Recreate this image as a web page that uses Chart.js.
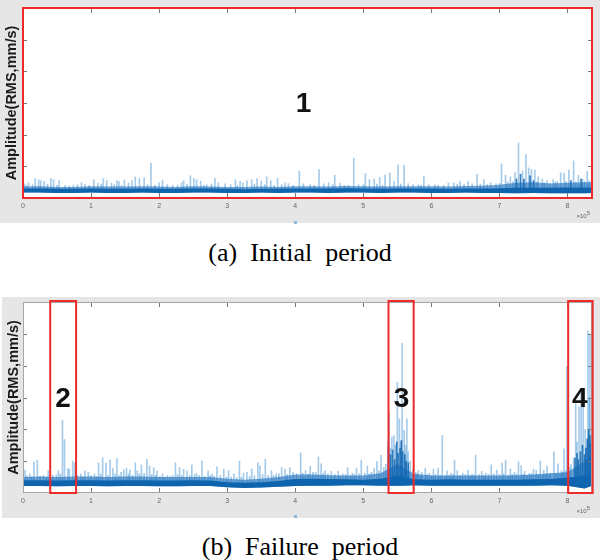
<!DOCTYPE html>
<html><head><meta charset="utf-8">
<script src="https://cdn.jsdelivr.net/npm/chart.js@4.4.1/dist/chart.umd.min.js"></script>
<style>
html,body{margin:0;padding:0;background:#fff;width:600px;height:560px;overflow:hidden;position:relative;}
#pa{position:absolute;left:0;top:0;width:600px;height:223px;background:#e6e6e6;}
#pb{position:absolute;left:2px;top:297px;width:598px;height:221px;background:#e6e6e6;}
.cap{position:absolute;left:0;width:600px;height:30px;line-height:30px;text-align:center;font-family:"Liberation Serif","Times New Roman",serif;font-size:26px;white-space:pre;color:#000;}
.dot{position:absolute;width:3px;height:3px;background:#8fb8de;}
</style></head>
<body>
<div id="pa"><canvas id="ca" width="600" height="223"></canvas></div>
<div class="dot" style="left:294px;top:221px"></div>
<div class="cap" style="top:238px">(a)  Initial  period</div>
<div id="pb"><canvas id="cb" width="598" height="221"></canvas></div>
<div class="dot" style="left:294px;top:515px"></div>
<div class="cap" style="top:532px">(b)  Failure  period</div>
<script>
// ---- axis ticks ----
const xTickVals = [0,1,2,3,4,5,6,7,8];
const yTickVals = [1,2,3,4,5];
const xMin = 0, xMax = 8.36, yMin = 0, yMax = 6;
const yTitle = "Amplitude(RMS,mm/s)";
const xExpLabel = "\u00d710";
const xExpPow = "5";

// ---- baseline band (x in units of 1e5 samples) ----
const bandX = [0,0.25,0.5,0.75,1,1.25,1.5,1.75,2,2.25,2.5,2.75,3,3.25,3.5,3.75,4,4.25,4.5,4.75,5,5.25,5.5,5.75,6,6.25,6.5,6.75,7,7.25,7.5,7.75,8,8.25,8.35];

// panel (a) Initial period
const aBandLo = [.17,.17,.16,.16,.17,.16,.16,.17,.16,.16,.17,.17,.16,.16,.17,.16,.17,.17,.16,.17,.17,.16,.17,.17,.16,.16,.17,.16,.16,.15,.16,.15,.15,.15,.16];
const aBandHi = [.30,.30,.29,.29,.30,.29,.29,.30,.29,.29,.30,.30,.29,.28,.29,.29,.30,.30,.30,.31,.30,.29,.30,.30,.30,.29,.30,.30,.31,.32,.32,.32,.33,.33,.33];
const aBandFuzz = [.36,.37,.35,.35,.37,.36,.36,.37,.36,.35,.37,.36,.35,.35,.36,.35,.37,.37,.36,.38,.37,.36,.37,.37,.37,.36,.38,.39,.42,.48,.50,.46,.48,.50,.50];
const aSpikeX = [0.02,0.08,0.18,0.23,0.26,0.31,0.41,0.45,0.53,0.62,0.74,0.86,0.91,1.04,1.10,1.18,1.23,1.30,1.38,1.41,1.49,1.55,1.60,1.65,1.71,1.78,1.88,2.00,2.05,2.20,2.33,2.36,2.46,2.51,2.55,2.61,2.70,2.82,2.87,2.97,3.12,3.19,3.23,3.29,3.36,3.44,3.50,3.58,3.64,3.74,3.85,3.90,4.06,4.12,4.22,4.35,4.42,4.49,4.58,4.66,4.78,4.86,4.93,5.03,5.09,5.16,5.24,5.32,5.39,5.45,5.51,5.60,5.66,5.73,5.81,5.89,5.96,6.10,6.25,6.33,6.42,6.54,6.60,6.67,6.77,6.87,6.95,7.03,7.09,7.16,7.23,7.28,7.34,7.39,7.43,7.47,7.52,7.57,7.63,7.70,7.79,7.85,7.90,7.95,8.02,8.09,8.16,8.22,8.29];
const aSpikeY = [.45,.48,.61,.58,.55,.53,.62,.58,.55,.40,.41,.48,.43,.58,.47,.61,.55,.47,.55,.53,.57,.48,.55,.67,.62,.64,1.10,.48,.57,.40,.48,.55,.70,.62,.58,.53,.42,.62,.48,.45,.58,.53,.48,.55,.58,.61,.53,.67,.55,.62,.48,.45,.85,.45,.42,.90,.45,.48,.72,.46,.40,1.26,.42,.77,.58,.60,.65,.72,.79,.52,1.05,1.03,.45,.42,.42,.69,.42,.40,.48,.48,.52,.52,.45,.75,.58,.48,.45,1.08,.72,.67,.80,1.74,.85,1.37,.95,.90,.88,.67,.60,.55,.58,.52,.80,.78,.88,1.17,.72,.60,.84];
const aMinorX = [0.05,0.14,0.36,0.50,0.68,0.80,0.97,1.15,1.34,1.45,1.83,1.94,2.12,2.27,2.41,2.66,2.77,3.05,3.15,3.40,3.55,3.69,3.80,3.97,4.28,4.55,4.72,5.00,5.20,5.28,5.55,5.85,6.05,6.18,6.38,6.48,6.72,6.82,7.00,7.12,7.20,7.55,7.66,7.74,7.82,7.98,8.12,8.25,8.32];
const aMinorY = [.40,.42,.44,.40,.38,.42,.40,.44,.42,.40,.42,.40,.42,.40,.44,.40,.44,.42,.40,.44,.42,.40,.42,.40,.40,.42,.40,.42,.44,.40,.44,.40,.42,.40,.44,.42,.44,.42,.46,.50,.52,.50,.48,.46,.50,.52,.50,.52,.55];
const aDarkX = [7.25,7.31,7.36,7.45,7.50,8.05,8.20];
const aDarkY = [.60,.75,.60,.70,.55,.55,.60];
const aRegionStart = [];
const aRegionEnd = [];
const aMarkX = [4.12];
const aMarkText = ["1"];

// panel (b) Failure period
const bBandLo = [.22,.22,.21,.22,.22,.21,.22,.22,.21,.21,.22,.22,.18,.16,.17,.20,.22,.23,.23,.24,.24,.23,.23,.24,.23,.23,.23,.23,.23,.23,.23,.24,.23,.14,.22];
const bBandHi = [.40,.40,.39,.40,.40,.39,.40,.40,.39,.39,.40,.39,.34,.32,.34,.38,.44,.45,.44,.43,.42,.45,.55,.43,.42,.43,.42,.42,.42,.42,.43,.44,.48,.55,.60];
const bBandFuzz = [.50,.52,.50,.52,.52,.50,.52,.52,.50,.50,.50,.50,.45,.42,.45,.50,.58,.58,.56,.55,.55,.62,.90,.60,.55,.55,.55,.55,.55,.56,.58,.62,.65,1.00,1.20];
const bSpikeX = [0.03,0.10,0.16,0.21,0.30,0.37,0.49,0.52,0.58,0.61,0.66,0.68,0.73,0.76,0.85,0.91,0.96,1.05,1.11,1.17,1.22,1.28,1.32,1.38,1.44,1.48,1.52,1.57,1.65,1.68,1.74,1.82,1.86,1.92,1.97,2.05,2.12,2.24,2.30,2.36,2.41,2.48,2.55,2.63,2.72,2.78,2.85,2.95,3.02,3.10,3.18,3.24,3.29,3.36,3.45,3.48,3.56,3.65,3.72,3.80,3.85,3.92,3.97,4.08,4.15,4.22,4.30,4.34,4.38,4.44,4.53,4.63,4.70,4.77,4.84,4.90,4.97,5.06,5.12,5.16,5.20,5.26,5.30,5.33,5.36,5.38,5.40,5.42,5.45,5.47,5.50,5.53,5.55,5.57,5.60,5.62,5.64,5.66,5.69,5.73,5.77,5.81,5.86,5.91,5.97,6.03,6.10,6.16,6.23,6.29,6.34,6.38,6.46,6.54,6.60,6.65,6.74,6.80,6.88,6.96,7.04,7.09,7.16,7.22,7.28,7.32,7.37,7.44,7.50,7.54,7.60,7.65,7.70,7.75,7.80,7.86,7.91,7.95,7.99,8.03,8.05,8.09,8.12,8.14,8.17,8.20,8.23,8.26,8.28,8.30,8.32,8.33];
const bSpikeY = [.72,.60,.98,1.03,.55,.70,.57,.70,2.28,1.68,.77,.75,1.00,.95,.60,.70,.65,.60,.95,1.11,.93,1.04,.78,1.08,.65,.73,.78,.73,.95,.70,.88,1.06,.85,.80,.70,.60,.55,.95,.80,.75,.70,.88,.62,1.00,.70,.60,.82,.75,.70,.60,1.00,.62,.65,.75,.95,.85,1.06,.70,.60,.80,.75,.80,.65,1.26,.70,.84,.65,1.13,.92,.70,.68,.68,.60,.80,.62,.78,1.03,.85,.65,.78,.99,1.19,.80,.90,1.60,2.52,1.40,1.76,1.80,1.50,3.47,2.33,1.60,4.70,1.97,1.50,2.33,1.30,1.00,.75,.65,.70,.65,.78,.62,.75,.78,1.81,.70,.62,1.03,.70,.62,.72,.60,1.19,.68,.62,.88,.72,.94,1.03,.75,.65,.98,.85,.68,.62,.75,.72,1.00,.72,.85,.62,1.29,.92,.70,1.39,3.98,.80,.90,1.10,2.80,1.60,2.70,3.20,2.85,2.00,1.45,5.09,3.00,4.99];
const bMinorX = [0.06,0.13,0.25,0.34,0.44,0.55,0.80,0.88,1.00,1.08,1.14,1.25,1.35,1.41,1.55,1.61,1.71,1.78,1.89,1.95,2.01,2.08,2.16,2.20,2.27,2.33,2.45,2.52,2.59,2.67,2.75,2.81,2.90,2.99,3.06,3.14,3.21,3.33,3.40,3.52,3.60,3.68,3.76,3.88,4.02,4.11,4.19,4.26,4.41,4.48,4.58,4.66,4.74,4.81,4.87,4.94,5.02,5.09,5.23,5.79,5.84,5.94,6.00,6.06,6.13,6.20,6.26,6.32,6.42,6.50,6.57,6.63,6.70,6.77,6.84,6.92,7.00,7.06,7.13,7.19,7.25,7.35,7.41,7.47,7.57,7.63,7.68,7.73,7.83,7.89,7.93,7.97,8.01];
const bMinorY = [.55,.50,.52,.50,.55,.60,.55,.50,.55,.52,.60,.55,.60,.55,.60,.55,.60,.62,.58,.55,.52,.50,.52,.55,.58,.55,.55,.58,.55,.52,.55,.52,.55,.50,.50,.48,.50,.52,.55,.58,.55,.55,.60,.58,.60,.62,.60,.65,.62,.60,.58,.55,.58,.55,.58,.60,.62,.60,.70,.60,.55,.58,.55,.58,.55,.55,.55,.58,.55,.58,.55,.55,.58,.55,.58,.60,.58,.60,.55,.58,.60,.58,.55,.60,.58,.55,.60,.58,.62,.60,.65,.70,.75];
const bDarkX = [5.37,5.40,5.43,5.46,5.49,5.51,5.54,5.56,5.58,5.61,5.63,5.66,8.11,8.14,8.16,8.19,8.22,8.25,8.27,8.29,8.31,8.33,8.34];
const bDarkY = [1.45,1.20,1.35,1.05,1.60,1.25,1.40,1.65,1.30,1.20,1.00,.95,1.10,1.25,1.05,1.30,1.50,1.20,1.40,1.70,2.00,1.80,1.55];
const bRegionStart = [0.40,5.37,8.01];
const bRegionEnd = [0.78,5.74,8.37];
const bMarkX = [0.59,5.56,8.18];
const bMarkText = ["2","3","4"];
const markY = 2.95;

const SPIKE_BASE = 0.25;

function pts(xs, ys){ return xs.map((x,i)=>({x:x, y:ys[i]})); }
function bars(xs, ys){ return xs.map((x,i)=>({x:x, y:[SPIKE_BASE, ys[i]]})); }

function decor(kind, rStart, rEnd, markX, markText){
  return {
    id: 'decor'+kind,
    beforeDraw(chart){
      const {ctx, chartArea:a} = chart;
      ctx.save(); ctx.fillStyle = '#ffffff';
      ctx.fillRect(a.left, a.top, a.right-a.left, a.bottom-a.top);
      ctx.restore();
    },
    afterDraw(chart){
      const {ctx, chartArea:a, scales} = chart;
      const xs = scales.x, ys = scales.y;
      ctx.save();
      ctx.strokeStyle = '#7a7a7a'; ctx.lineWidth = 1;
      ctx.beginPath();
      xTickVals.forEach(v=>{
        if (v <= xMin) return;
        const px = Math.round(xs.getPixelForValue(v)) + 0.5;
        ctx.moveTo(px, a.top); ctx.lineTo(px, a.top+5);
        ctx.moveTo(px, a.bottom); ctx.lineTo(px, a.bottom-5);
      });
      yTickVals.forEach(v=>{
        const py = Math.round(ys.getPixelForValue(v)) + 0.5;
        ctx.moveTo(a.left, py); ctx.lineTo(a.left+4, py);
        ctx.moveTo(a.right, py); ctx.lineTo(a.right-4, py);
      });
      ctx.stroke();
      if (kind === 'a') {
        ctx.strokeStyle = '#ee2b2b'; ctx.lineWidth = 2;
        ctx.strokeRect(a.left, a.top, a.right-a.left, a.bottom-a.top);
      } else {
        ctx.strokeStyle = '#a6a6a6'; ctx.lineWidth = 1;
        ctx.strokeRect(a.left+0.5, a.top+0.5, a.right-a.left-1, a.bottom-a.top-1);
        ctx.strokeStyle = '#ee2b2b'; ctx.lineWidth = 2;
        rStart.forEach((s,i)=>{
          const x0 = xs.getPixelForValue(s), x1 = xs.getPixelForValue(rEnd[i]);
          ctx.strokeRect(x0, a.top-1, x1-x0, a.bottom-a.top+1);
        });
      }
      ctx.fillStyle = '#111';
      ctx.font = 'bold 28px "Liberation Sans", Arial, sans-serif';
      ctx.textAlign = 'center'; ctx.textBaseline = 'middle';
      markX.forEach((mx,i)=>{
        ctx.fillText(markText[i], xs.getPixelForValue(mx), ys.getPixelForValue(markY));
      });
      ctx.fillStyle = '#666';
      ctx.font = '6px "Liberation Sans", Arial, sans-serif';
      ctx.textAlign = 'right'; ctx.textBaseline = 'middle';
      const ex = a.right - 2, ey = a.bottom + 18;
      ctx.fillText(xExpPow, ex, ey - 3);
      const w = ctx.measureText(xExpPow).width;
      ctx.fillText(xExpLabel, ex - w, ey);
      ctx.restore();
    }
  };
}

function makeChart(id, kind, padTop, yWidth, lo, hi, fuzz, sx, sy, mx, my, dx, dy, rStart, rEnd, markX, markText){
  return new Chart(document.getElementById(id), {
    type: 'bar',
    data: {
      datasets: [
        {type:'line', data: pts(bandX, lo), borderWidth:0, pointRadius:0, fill:false, tension:0, order:4},
        {type:'line', data: pts(bandX, fuzz), borderWidth:0, pointRadius:0, fill:'-1', backgroundColor:'rgba(25,110,188,0.62)', tension:0, order:4},
        {type:'line', data: pts(bandX, hi), borderWidth:0, pointRadius:0, fill:0, backgroundColor:'#0f64ae', tension:0, order:3},
        {type:'bar', data: bars(sx, sy), backgroundColor:'rgba(40,130,205,0.42)', barThickness:1, grouped:false, order:5},
        {type:'bar', data: bars(mx, my), backgroundColor:'rgba(40,130,205,0.45)', barThickness:1, grouped:false, order:5},
        {type:'bar', data: bars(dx, dy), backgroundColor:'rgba(16,102,176,0.85)', barThickness:1, grouped:false, order:1}
      ]
    },
    options: {
      responsive:false, animation:false, events:[],
      layout:{padding:{left:0, top:padTop, right:8, bottom:0}},
      plugins:{legend:{display:false}, tooltip:{enabled:false}},
      scales:{
        x:{type:'linear', min:xMin, max:xMax, offset:false,
           grid:{display:false, drawTicks:false}, border:{display:false},
           afterBuildTicks: s => { s.ticks = xTickVals.map(v=>({value:v})); },
           afterFit: s => { s.height = 25; },
           ticks:{padding:4, font:{size:7, family:'"Liberation Sans", Arial, sans-serif'}, color:'#666', maxRotation:0, autoSkip:false}},
        y:{min:yMin, max:yMax,
           grid:{display:false, drawTicks:false}, border:{display:false},
           ticks:{display:false},
           afterFit: s => { s.width = yWidth; },
           title:{display:true, text:yTitle, color:'#1a1a1a', padding:{top:3, bottom:0},
                  font:{size:14.5, weight:'bold', family:'"Liberation Sans", Arial, sans-serif'}}}
      }
    },
    plugins:[decor(kind, rStart, rEnd, markX, markText)]
  });
}

makeChart('ca','a',8,23,aBandLo,aBandHi,aBandFuzz,aSpikeX,aSpikeY,aMinorX,aMinorY,aDarkX,aDarkY,aRegionStart,aRegionEnd,aMarkX,aMarkText);
makeChart('cb','b',5,21,bBandLo,bBandHi,bBandFuzz,bSpikeX,bSpikeY,bMinorX,bMinorY,bDarkX,bDarkY,bRegionStart,bRegionEnd,bMarkX,bMarkText);
</script>
</body></html>
